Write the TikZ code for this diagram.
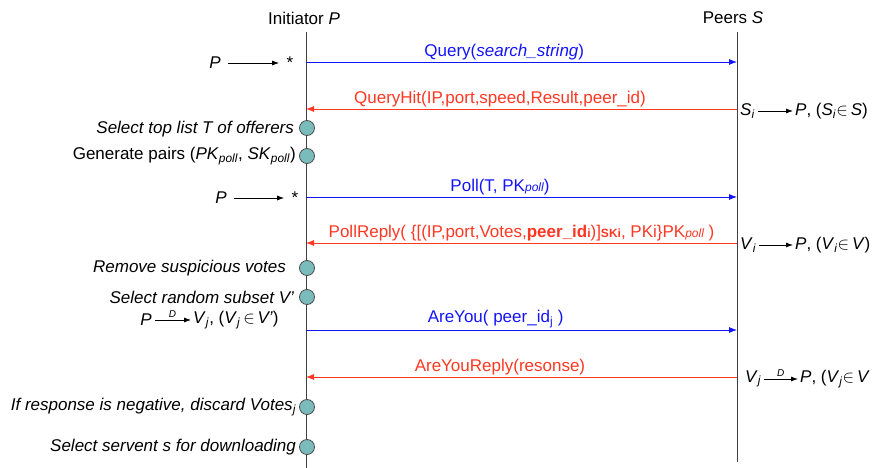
\documentclass[tikz,border=0pt]{standalone}
\usepackage{fontspec}
\setmainfont{Liberation Sans}
\usetikzlibrary{arrows.meta,positioning,calc}
\definecolor{msgblue}{RGB}{20,20,250}
\definecolor{msgred}{RGB}{255,55,35}
\definecolor{actfill}{RGB}{122,188,188}
\tikzset{
    lifeline/.style={draw=black!75, line width=0.9pt},
    request/.style={-{Latex[length=8pt, width=6pt]}, msgblue, line width=0.8pt},
    reply/.style={-{Latex[length=8pt, width=6pt]}, msgred, line width=0.8pt},
    action/.style={draw=black!70, circle, fill=actfill, minimum size=15pt, inner sep=0pt, line width=0.8pt},
    note/.style={anchor=east, inner sep=1pt},
    hop/.style={-{Latex[length=7pt, width=5pt]}, black, line width=0.8pt, shorten <=2pt, shorten >=1pt},
    hoptag/.style={above=-1pt, font=\fontsize{10}{12}\selectfont\itshape},
    msglabel/.style={above=1pt, inner sep=1pt}
}

\begin{document}
\begin{tikzpicture}[x=1pt, y=-1pt, font=\fontsize{17}{19}\selectfont]
    \useasboundingbox (0,0) rectangle (878,468);

    % lifelines
    \node (init) at (304,18) {Initiator \textit{P}};
    \node (peers) at (733,18) {Peers \textit{S}};
    \coordinate (itop) at (306,32);
    \coordinate (ibot) at (306,468);
    \coordinate (ptop) at (737,32);
    \coordinate (pbot) at (737,462);
    \draw[lifeline] (itop) -- (ibot);
    \draw[lifeline] (ptop) -- (pbot);

    % message ends
    \coordinate (i1) at (306,62);  \coordinate (p1) at (737,62);
    \coordinate (i2) at (306,109); \coordinate (p2) at (737,109);
    \coordinate (i3) at (306,197); \coordinate (p3) at (737,197);
    \coordinate (i4) at (306,243); \coordinate (p4) at (737,243);
    \coordinate (i5) at (306,330); \coordinate (p5) at (737,330);
    \coordinate (i6) at (306,377); \coordinate (p6) at (737,377);

    % messages
    \draw[request] (i1) -- node[msglabel, pos=0.46] {Query(\textit{search\_string})} (p1);
    \draw[reply] (p2) -- node[msglabel, pos=0.55] {QueryHit(IP,port,speed,Result,peer\_id)} (i2);
    \draw[request] (i3) -- node[msglabel, pos=0.45] {Poll(T, PK{\fontsize{12}{14}\selectfont\itshape poll})} (p3);
    \draw[reply] (p4) -- node[msglabel, pos=0.5] {PollReply( \{[(IP,port,Votes,\textbf{peer\_id{\fontsize{12}{14}\selectfont i}})]{\fontsize{12}{14}\selectfont\bfseries SKi}, PKi\}PK{\fontsize{12}{14}\selectfont\itshape poll} )} (i4);
    \draw[request] (i5) -- node[msglabel, pos=0.44] {AreYou( peer\_id\textsubscript{j} )} (p5);
    \draw[reply] (p6) -- node[msglabel, pos=0.55] {AreYouReply(resonse)} (i6);

    % actions of the initiator
    \node[action] (a1) at (307,128) {};
    \node[action] (a2) at (307,156) {};
    \node[action] (a3) at (307,268) {};
    \node[action] (a4) at (307,297) {};
    \node[action] (a5) at (307,407) {};
    \node[action] (a6) at (307,447) {};
    \node[note, left=4pt of a1, yshift=-1pt] {\itshape Select top list T of offerers};
    \node[note, left=2pt of a2] {Generate pairs (\textit{PK}\textsubscript{\textit{poll}}, \textit{SK}\textsubscript{\textit{poll}})};
    \node[note, left=12pt of a3] {\itshape Remove suspicious votes};
    \node[note, left=4pt of a4] {\itshape Select random subset V'};
    \node[note, left=2pt of a5] {\itshape If response is negative, discard Votes\textsubscript{j}};
    \node[note, left=2pt of a6] {\itshape Select servent s for downloading};

    % forwarding hints, initiator side
    \node (src1) at (215,63) {\textit{P}};
    \node (dst1) at (290,63) {*};
    \draw[hop, shorten <=4pt, shorten >=4pt] (src1) -- (dst1);
    \node (src2) at (221,198) {\textit{P}};
    \node (dst2) at (295,198) {*};
    \draw[hop, shorten <=4pt, shorten >=4pt] (src2) -- (dst2);
    \node[inner sep=1pt] (src3) at (146,320) {\textit{P}};
    \node[inner sep=1pt, anchor=west] (dst3) at (192,320) {\textit{V}\textsubscript{\textit{j}}, (\textit{V}\textsubscript{\textit{j}}\,$\in$\,\textit{V'})};
    \draw[hop] (src3) -- node[hoptag] {D} (dst3);

    % forwarding hints, peer side
    \node[inner sep=1pt, anchor=west] (src4) at (739,111) {\textit{S}\textsubscript{\textit{i}}};
    \node[inner sep=1pt, anchor=west] (dst4) at (794,111) {\textit{P}, (\textit{S}\textsubscript{\textit{i}}$\in$\,\textit{S})};
    \draw[hop] (src4) -- (dst4);
    \node[inner sep=1pt, anchor=west] (src5) at (739,245) {\textit{V}\textsubscript{\textit{i}}};
    \node[inner sep=1pt, anchor=west] (dst5) at (794,245) {\textit{P}, (\textit{V}\textsubscript{\textit{i}}$\in$\,\textit{V})};
    \draw[hop] (src5) -- (dst5);
    \node[inner sep=1pt, anchor=west] (src6) at (744,379) {\textit{V}\textsubscript{\textit{j}}};
    \node[inner sep=1pt, anchor=west] (dst6) at (799,379) {\textit{P}, (\textit{V}\textsubscript{\textit{j}}$\in$\,\textit{V}};
    \draw[hop] (src6) -- node[hoptag] {D} (dst6);
\end{tikzpicture}
\end{document}
